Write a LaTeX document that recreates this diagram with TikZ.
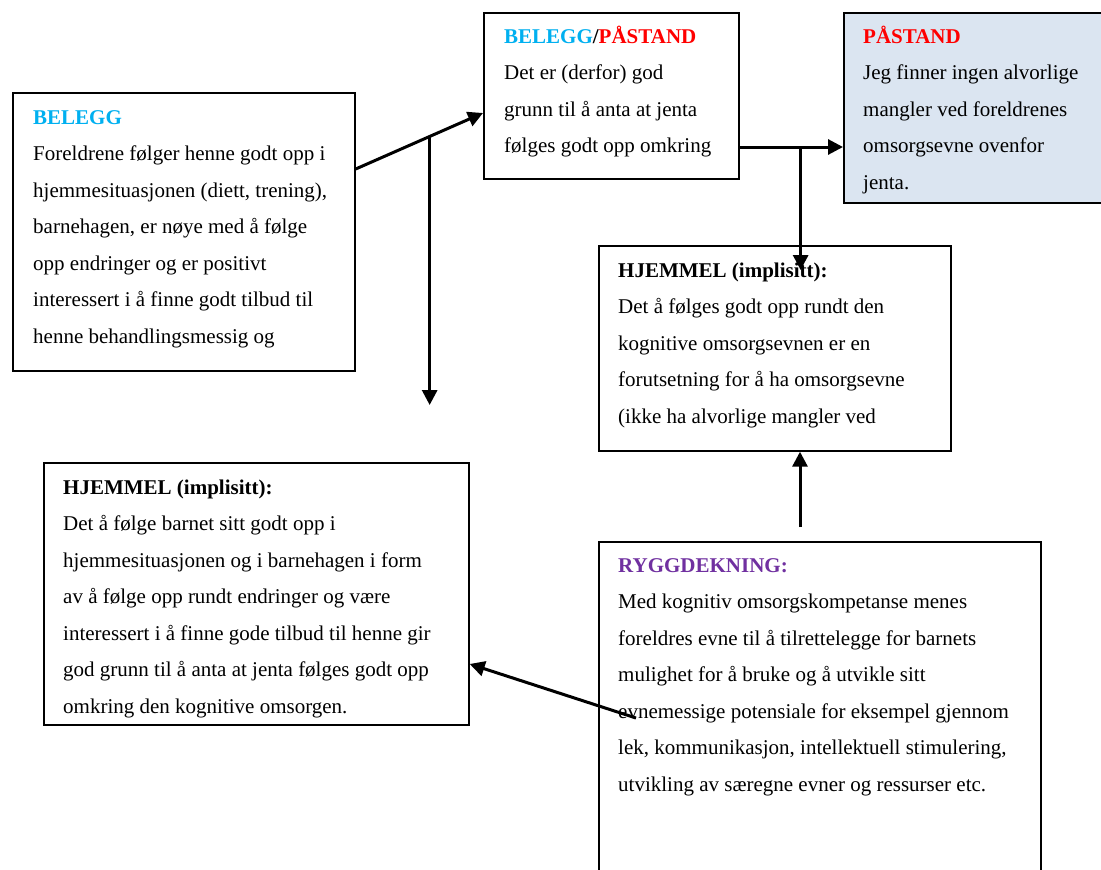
\documentclass[tikz,border=0pt]{standalone}
\usepackage{fontspec}
\setmainfont{Liberation Serif}
\usetikzlibrary{arrows.meta}
\definecolor{belblue}{HTML}{00B0F0}
\definecolor{pred}{HTML}{FF0000}
\definecolor{rpurple}{HTML}{7030A0}
\definecolor{pfill}{HTML}{DBE5F1}
\begin{document}
\begin{tikzpicture}[x=1pt,y=-1pt,
  box/.style={draw=black, line width=1.7pt, anchor=north west, inner sep=0pt, rectangle},
  txt/.style={anchor=base west, inner sep=0pt, align=left, font=\fontsize{21}{36.5}\selectfont},
  arr/.style={line width=3pt, -{Triangle[length=15pt,width=15pt]}}]
\clip (0,0) rectangle (1101,870);
\fill[white] (0,0) rectangle (1101,870);

% boxes
\node[box, minimum width=342pt, minimum height=278pt] (belegg) at (12,92) {};
\node[box, minimum width=255pt, minimum height=166pt] (bp) at (483,12) {};
\node[box, fill=pfill, minimum width=300pt, minimum height=190pt] (pastand) at (843,12) {};
\node[box, minimum width=352pt, minimum height=205pt] (hjR) at (598,245) {};
\node[box, minimum width=442pt, minimum height=400pt] (rygg) at (598,541) {};
\node[box, minimum width=425pt, minimum height=262pt] (hjL) at (43,462) {};

% texts (anchored at the baseline of their last line)
\node[txt] (tbelegg) at (33,343) {\textbf{\textcolor{belblue}{BELEGG}}\\
Foreldrene følger henne godt opp i\\
hjemmesituasjonen (diett, trening),\\
barnehagen, er nøye med å følge\\
opp endringer og er positivt\\
interessert i å finne godt tilbud til\\
henne behandlingsmessig og};

\node[txt] (tbp) at (504,152.5) {\textbf{\textcolor{belblue}{BELEGG}/\textcolor{pred}{PÅSTAND}}\\
Det er (derfor) god\\
grunn til å anta at jenta\\
følges godt opp omkring};

\begin{scope}
\clip (pastand.north west) rectangle (pastand.south east);
\node[txt] (tpastand) at (863,189) {\textbf{\textcolor{pred}{PÅSTAND}}\\
Jeg finner ingen alvorlige\\
mangler ved foreldrenes\\
omsorgsevne ovenfor\\
jenta.};
\end{scope}

\node[txt] (thjR) at (618,423) {\textbf{HJEMMEL (implisitt):}\\
Det å følges godt opp rundt den\\
kognitive omsorgsevnen er en\\
forutsetning for å ha omsorgsevne\\
(ikke ha alvorlige mangler ved};

\node[txt] (trygg) at (618,791) {\textbf{\textcolor{rpurple}{RYGGDEKNING:}}\\
Med kognitiv omsorgskompetanse menes\\
foreldres evne til å tilrettelegge for barnets\\
mulighet for å bruke og å utvikle sitt\\
evnemessige potensiale for eksempel gjennom\\
lek, kommunikasjon, intellektuell stimulering,\\
utvikling av særegne evner og ressurser etc.};

\begin{scope}
\clip (hjL.north west) rectangle (hjL.south east);
\node[txt] (thjL) at (63,713) {\textbf{HJEMMEL (implisitt):}\\
Det å følge barnet sitt godt opp i\\
hjemmesituasjonen og i barnehagen i form\\
av å følge opp rundt endringer og være\\
interessert i å finne gode tilbud til henne gir\\
god grunn til å anta at jenta følges godt opp\\
omkring den kognitive omsorgen.};
\end{scope}

% connectors
\draw[arr] ([yshift=-77pt]belegg.north east) -- ([yshift=-101pt]bp.north west) coordinate[pos=0.581] (j1);
\coordinate (d1) at (429,405);
\draw[arr] (j1) -- (j1 |- d1);

\draw[arr] ([yshift=-135pt]bp.north east) -- ([yshift=-135pt]pastand.north west) coordinate[pos=0.59] (j2);
\coordinate (d2) at (800,270);
\draw[arr] (j2) -- (j2 |- d2);

\coordinate (s3) at (800,527);
\draw[arr] (s3) -- (s3 |- hjR.south);

\coordinate (s4) at (636,718);
\draw[arr] (s4) -- ([yshift=-202pt]hjL.north east);
\end{tikzpicture}
\end{document}
